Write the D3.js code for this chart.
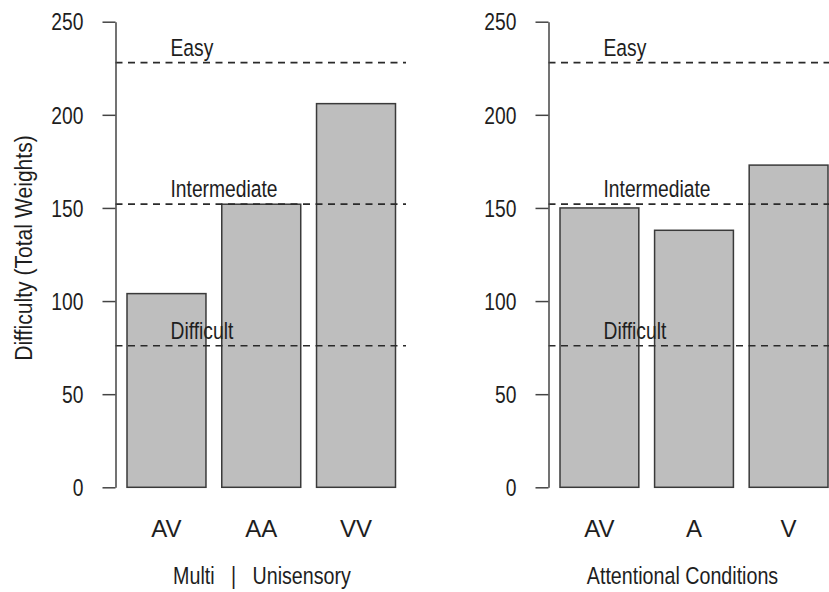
<!DOCTYPE html>
<html>
<head>
<meta charset="utf-8">
<script src="https://cdn.jsdelivr.net/npm/d3@7"></script>
<style>
  html, body { margin: 0; padding: 0; background: #fff; }
  svg { display: block; }
  .reg { font-family: "Liberation Sans", Arial, sans-serif; }
</style>
</head>
<body>
<svg id="chart" width="829" height="592"></svg>
<script>
// ---- data ----
const leftCategories = ["AV", "AA", "VV"];
const leftValues = [104, 152, 206];
const rightCategories = ["AV", "A", "V"];
const rightValues = [150, 138, 173];
const thresholdLabels = ["Easy", "Intermediate", "Difficult"];
const thresholdValues = [228, 152, 76];
const yTicks = [0, 50, 100, 150, 200, 250];
const yDomain = [0, 250];
const leftTitle = "Multi   |   Unisensory";
const rightTitle = "Attentional Conditions";
const yAxisTitle = "Difficulty (Total Weights)";

// ---- layout ----
const svg = d3.select("#chart");
const y = d3.scaleLinear().domain(yDomain).range([487.3, 21.7]);
const inkDark = "#1e1e1e";
const narrowScale = 0.82;

function narrowText(g, x, yy, txt, anchor, size) {
  return g.append("text")
    .attr("class", "reg")
    .attr("transform", `translate(${x},${yy}) scale(${narrowScale},1)`)
    .attr("text-anchor", anchor)
    .attr("font-size", size)
    .attr("fill", inkDark)
    .style("white-space", "pre")
    .text(txt);
}

const panels = [
  { cats: leftCategories, vals: leftValues, axisX: 115.5, barRange: [127, 395.5], plotRight: 406, title: leftTitle, titleX: 262, yTitle: true },
  { cats: rightCategories, vals: rightValues, axisX: 548.5, barRange: [560, 828], plotRight: 840, title: rightTitle, titleX: 682.5, yTitle: false }
];

panels.forEach(p => {
  const g = svg.append("g");
  const x = d3.scaleBand().domain(p.cats).range(p.barRange).paddingInner(1/6).paddingOuter(0);

  // bars
  g.selectAll("rect.bar").data(p.cats.map((c, i) => ({ c, v: p.vals[i] })))
    .enter().append("rect")
    .attr("class", "bar")
    .attr("x", d => x(d.c))
    .attr("width", x.bandwidth())
    .attr("y", d => y(d.v))
    .attr("height", d => y(0) - y(d.v))
    .attr("fill", "#bebebe")
    .attr("stroke", "#3a3a3a")
    .attr("stroke-width", 1.5);

  // threshold dashed lines
  g.selectAll("line.thr").data(thresholdValues).enter().append("line")
    .attr("x1", p.axisX).attr("x2", p.plotRight)
    .attr("y1", d => y(d)).attr("y2", d => y(d))
    .attr("stroke", "#2a2a2a").attr("stroke-width", 1.7)
    .attr("stroke-dasharray", "7,5.5");

  thresholdValues.forEach((v, i) => {
    narrowText(g, p.axisX + 55, y(v) - 7, thresholdLabels[i], "start", "23.5px");
  });

  // y axis
  const ax = d3.axisLeft(y).tickValues(yTicks).tickSize(13).tickSizeOuter(0).tickPadding(19).tickFormat(d3.format("d"));
  const axg = g.append("g").attr("transform", `translate(${p.axisX},0)`).call(ax);
  axg.select(".domain").attr("stroke", "#444").attr("stroke-width", 1.5);
  axg.selectAll(".tick line").attr("stroke", "#444").attr("stroke-width", 1.5);
  axg.selectAll(".tick text")
    .attr("class", "reg")
    .attr("font-size", "23.5px")
    .attr("fill", inkDark)
    .attr("x", 0)
    .attr("dy", "0.35em")
    .attr("transform", `translate(-32,0) scale(${narrowScale},1)`);

  // x category labels
  g.selectAll("text.cat").data(p.cats).enter().append("text")
    .attr("class", "reg")
    .attr("x", d => x(d) + x.bandwidth() / 2)
    .attr("y", 537)
    .attr("text-anchor", "middle")
    .attr("font-size", "24px")
    .attr("fill", inkDark)
    .text(d => d);

  // x title
  narrowText(g, p.titleX, 584, p.title, "middle", "24px");

  if (p.yTitle) {
    g.append("text")
      .attr("class", "reg")
      .attr("transform", `translate(32,248) rotate(-90) scale(0.88,1)`)
      .attr("text-anchor", "middle")
      .attr("font-size", "24px")
      .attr("fill", inkDark)
      .text(yAxisTitle);
  }
});
</script>
</body>
</html>
